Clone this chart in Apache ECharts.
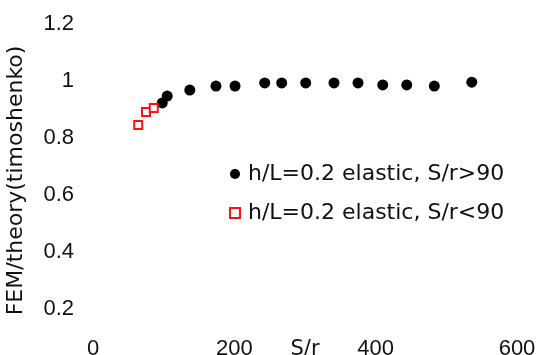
<!DOCTYPE html>
<html>
<head>
<meta charset="utf-8">
<script src="https://cdn.jsdelivr.net/npm/echarts@6/dist/echarts.min.js"></script>
<style>
  html, body { margin: 0; padding: 0; background: #fff; }
  #chart { width: 539px; height: 355px; }
</style>
</head>
<body>
<div id="chart"></div>
<script>
// S/r and FEM/theory values
const srHigh = [98, 105, 137, 174, 201, 243, 267, 301, 341, 375, 410, 444, 483, 536];
const ratioHigh = [0.922, 0.946, 0.967, 0.981, 0.981, 0.992, 0.992, 0.992, 0.992, 0.992, 0.985, 0.985, 0.981, 0.995];
const srLow = [64, 75, 86];
const ratioLow = [0.845, 0.890, 0.904];
const nameHigh = 'h/L=0.2 elastic, S/r>90';
const nameLow = 'h/L=0.2 elastic, S/r<90';

const font = 'Liberation Sans';
const wideFont = 'DejaVu Sans';
const toPairs = (xs, ys) => xs.map((x, i) => [x, ys[i]]);

const chart = echarts.init(document.getElementById('chart'));
chart.setOption({
  animation: false,
  backgroundColor: '#fff',
  grid: { left: 93, right: 22, top: 23.7, bottom: 17.8, outerBoundsMode: 'none' },
  legend: {
    orient: 'vertical',
    left: 224,
    top: 158,
    itemWidth: 10,
    itemHeight: 10,
    itemGap: 17,
    textStyle: { fontFamily: wideFont, fontSize: 22, color: '#111', padding: [0, 0, 0, 3] },
    data: [nameHigh, nameLow]
  },
  xAxis: {
    type: 'value',
    min: 0,
    max: 600,
    interval: 200,
    name: 'S/r',
    nameLocation: 'middle',
    nameGap: 2,
    nameMoveOverlap: false,
    nameTextStyle: { fontFamily: wideFont, fontSize: 21, color: '#111' },
    axisLine: { show: false },
    axisTick: { show: false },
    splitLine: { show: false },
    axisLabel: { margin: 1, fontFamily: font, fontSize: 22, color: '#111' }
  },
  yAxis: {
    type: 'value',
    min: 0.1,
    max: 1.2,
    interval: 0.1,
    name: 'FEM/theory(timoshenko)',
    nameLocation: 'middle',
    nameGap: 66,
    nameTextStyle: { fontFamily: wideFont, fontSize: 22, color: '#111' },
    axisLine: { show: false },
    axisTick: { show: false },
    splitLine: { show: false },
    axisLabel: {
      margin: 19,
      fontFamily: font,
      fontSize: 22,
      color: '#111',
      formatter: function (v) {
        const k = Math.round(v * 10);
        if (k % 2 !== 0) return '';
        return String(k / 10);
      }
    }
  },
  series: [
    {
      name: nameHigh,
      type: 'scatter',
      symbol: 'circle',
      symbolSize: 11,
      itemStyle: { color: '#000', opacity: 1 },
      data: toPairs(srHigh, ratioHigh)
    },
    {
      name: nameLow,
      type: 'scatter',
      symbol: 'rect',
      symbolSize: 8,
      itemStyle: { color: '#fff', borderColor: '#ff1010', borderWidth: 2, opacity: 1 },
      data: toPairs(srLow, ratioLow)
    }
  ]
});
</script>
</body>
</html>
